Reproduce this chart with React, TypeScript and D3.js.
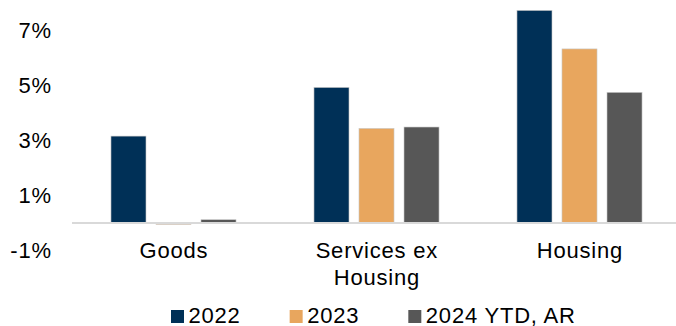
import React, { useEffect, useRef } from "react";
import * as d3 from "d3";

const categories = ["Goods", "Services ex Housing", "Housing"];
const categoryLines = [["Goods"], ["Services ex", "Housing"], ["Housing"]];
const seriesNames = ["2022", "2023", "2024 YTD, AR"];
const values2022 = [3.16, 4.93, 7.73];
const values2023 = [-0.05, 3.44, 6.33];
const values2024 = [0.12, 3.49, 4.75];
const yTicks = [-1, 1, 3, 5, 7];
const colors = ["#003057", "#E8A65E", "#575757"];

const W = 676;
const H = 326;
const FONT = "'Liberation Sans', Arial, sans-serif";
const LS = 0.8;

export default function App() {
  const ref = useRef<SVGSVGElement>(null);
  useEffect(() => {
    const svg = d3.select(ref.current);
    svg.selectAll("*").remove();
    const series = [values2022, values2023, values2024];

    const y = d3.scaleLinear().domain([-1, 8]).range([250.5, 3]);
    const x0 = d3.scaleBand<string>().domain(categories).range([72, 681]).paddingInner(0.384).paddingOuter(0.192);
    const x1 = d3.scaleBand<string>().domain(seriesNames).range([0, x0.bandwidth()]).paddingInner(0.222).paddingOuter(0);

    // bars
    seriesNames.forEach((s, si) => {
      svg.append("g")
        .selectAll("rect")
        .data(series[si])
        .join("rect")
        .attr("x", (_d, i) => (x0(categories[i]) as number) + (x1(s) as number))
        .attr("width", x1.bandwidth())
        .attr("y", (d) => Math.min(y(d), y(0)))
        .attr("height", (d) => Math.max(1, Math.abs(y(d) - y(0))))
        .attr("fill", colors[si])
        .attr("stroke", "#c8c8c8")
        .attr("stroke-width", 0.6);
    });

    // zero line
    svg.append("line")
      .attr("x1", 72).attr("x2", 681)
      .attr("y1", y(0)).attr("y2", y(0))
      .attr("stroke", "#d9d9d9").attr("stroke-width", 2);

    // y tick labels
    svg.append("g")
      .selectAll("text")
      .data(yTicks)
      .join("text")
      .attr("x", 51 + LS)
      .attr("y", (d) => y(d))
      .attr("dy", "0.35em")
      .attr("text-anchor", "end")
      .attr("font-family", FONT)
      .attr("font-size", 22)
      .attr("letter-spacing", LS)
      .attr("fill", "#000")
      .text((d) => `${d}%`);

    // category labels
    categories.forEach((c, i) => {
      const cx = (x0(c) as number) + x0.bandwidth() / 2;
      categoryLines[i].forEach((line, li) => {
        svg.append("text")
          .attr("x", cx + LS / 2)
          .attr("y", 258 + li * 27)
          .attr("text-anchor", "middle")
          .attr("font-family", FONT)
          .attr("font-size", 22)
          .attr("letter-spacing", LS)
          .attr("fill", "#000")
          .text(line);
      });
    });

    // legend
    const lg = svg.append("g");
    let cursor = 0;
    seriesNames.forEach((s, si) => {
      const g = lg.append("g").attr("transform", `translate(${cursor},0)`);
      g.append("rect").attr("x", 0).attr("y", -13).attr("width", 13).attr("height", 13).attr("fill", colors[si]);
      const t = g.append("text")
        .attr("x", 17.5).attr("y", 0)
        .attr("font-family", FONT).attr("font-size", 22).attr("letter-spacing", LS).attr("fill", "#000")
        .text(s);
      const tw = (t.node() as SVGTextElement).getComputedTextLength();
      cursor += 17.5 + tw + 49;
    });
    lg.attr("transform", `translate(171,323)`);
  }, []);

  return (
    <svg ref={ref} width={W} height={H} style={{ display: "block", position: "absolute", left: 0, top: 0, background: "#fff" }} />
  );
}
